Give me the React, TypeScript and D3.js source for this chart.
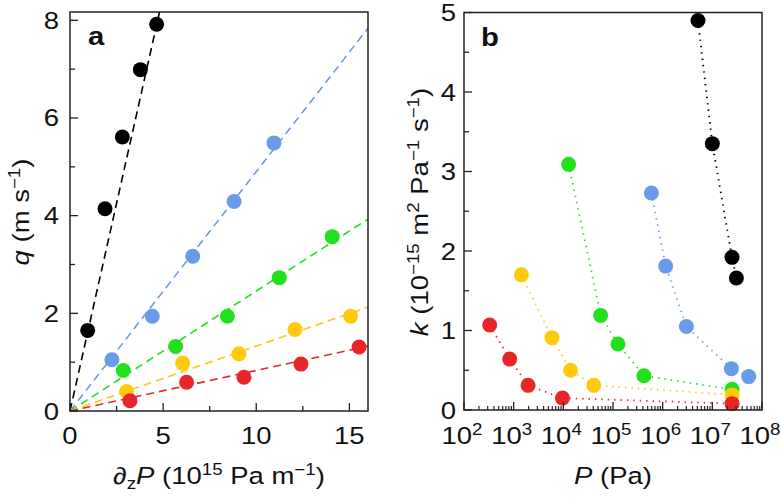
import React from "react";
import * as d3 from "d3";

// ---------- Data ----------
const seriesNames = ["black", "blue", "green", "yellow", "red"];
const seriesColors = ["#000000", "#6a9be8", "#22e01e", "#ffc90e", "#e8262a"];

// Panel a: pressure gradient (10^15 Pa/m) vs flux q (m/s)
const aX = [
  [0.95, 1.88, 2.81, 3.78, 4.65],
  [2.25, 4.42, 6.59, 8.81, 10.95],
  [2.86, 5.67, 8.45, 11.24, 14.08],
  [3.04, 6.05, 9.07, 12.08, 15.07],
  [3.22, 6.26, 9.34, 12.4, 15.52],
];
const aY = [
  [1.65, 4.14, 5.61, 6.99, 7.92],
  [1.05, 1.94, 3.17, 4.29, 5.49],
  [0.83, 1.32, 1.94, 2.73, 3.57],
  [0.4, 0.98, 1.17, 1.67, 1.94],
  [0.21, 0.59, 0.69, 0.96, 1.31],
];
// fitted slopes of the dashed lines through the origin
const aSlopes = [1.7, 0.49, 0.2456, 0.133, 0.083];

// Panel b: pressure P (Pa) vs permeability k
const bX = [
  [5.14e6, 1.0e7, 2.49e7, 3.05e7],
  [5.93e5, 1.15e6, 3.0e6, 2.42e7, 5.4e7],
  [1.28e4, 5.65e4, 1.26e5, 4.2e5, 2.5e7],
  [1.43e3, 5.9e3, 1.4e4, 4.1e4, 2.5e7],
  [329, 832, 1950, 9600, 2.5e7],
];
const bY = [
  [4.9, 3.35, 1.92, 1.66],
  [2.73, 1.81, 1.05, 0.52, 0.42],
  [3.09, 1.19, 0.83, 0.43, 0.26],
  [1.7, 0.91, 0.5, 0.31, 0.19],
  [1.07, 0.64, 0.31, 0.15, 0.08],
];

const aXTicks = [0, 5, 10, 15];
const aXMinor = [2.5, 7.5, 12.5];
const aYTicks = [0, 2, 4, 6, 8];
const aYMinor = [1, 3, 5, 7];
const bXTicks = [2, 3, 4, 5, 6, 7, 8]; // exponents
const bYTicks = [0, 1, 2, 3, 4, 5];
const bYMinor = [0.5, 1.5, 2.5, 3.5, 4.5];

const FONT = "'Liberation Sans', Arial, Helvetica, sans-serif";
const R = 7.5;
const FS = 23.5;
const SUP = 16;
const SX = 1.17;

function T(props: {
  x: number;
  y: number;
  rotate?: number;
  anchor?: string;
  size?: number;
  weight?: string;
  children: React.ReactNode;
}) {
  const { x, y, rotate = 0, anchor = "start", size = FS, weight = "normal", children } = props;
  return (
    <g transform={`translate(${x},${y}) rotate(${rotate}) scale(${SX},1)`}>
      <text x={0} y={0} fontSize={size} fontWeight={weight} textAnchor={anchor} fill="#111">
        {children}
      </text>
    </g>
  );
}

export default function App() {
  // panel a scales
  const xA = d3.scaleLinear().domain([0, 16]).range([70, 368]);
  const yA = d3.scaleLinear().domain([0, 8.17]).range([411, 12]);
  // panel b scales
  const xB = d3.scaleLog().domain([1e2, 1e8]).range([464, 762]);
  const yB = d3.scaleLinear().domain([0, 5]).range([410, 12.5]);

  const lineB = d3
    .line<[number, number]>()
    .x((d) => xB(d[0]))
    .y((d) => yB(d[1]));

  const bMinor: number[] = [];
  for (let e = 2; e < 8; e++) {
    for (let m = 2; m <= 9; m++) bMinor.push(m * Math.pow(10, e));
  }

  const tickColor = "#222";

  return (
    <svg width={781} height={500} style={{ display: "block", position: "absolute", left: 0, top: 0 }} fontFamily={FONT}>
      <rect width={781} height={500} fill="#fff" />
      {/* ---------------- Panel a ---------------- */}
      <g>
        {aSlopes.map((s, i) => {
          const xEnd = Math.min(16, 8.17 / s);
          return (
            <line
              key={"fl" + i}
              x1={xA(0)}
              y1={yA(0)}
              x2={xA(xEnd)}
              y2={yA(s * xEnd)}
              stroke={seriesColors[i]}
              strokeWidth={1.6}
              strokeDasharray="8 5"
            />
          );
        })}
        {aX.map((xs, i) =>
          xs.map((x, j) => (
            <circle key={"ap" + i + "-" + j} cx={xA(x)} cy={yA(aY[i][j])} r={R} fill={seriesColors[i]} />
          ))
        )}
        <rect x={70} y={12} width={298} height={399} fill="none" stroke={tickColor} strokeWidth={1.5} />
        {aXTicks.map((t) => (
          <g key={"axt" + t}>
            <line x1={xA(t)} x2={xA(t)} y1={411} y2={403} stroke={tickColor} strokeWidth={1.3} />
            <T x={xA(t)} y={444} anchor="middle">
              {t}
            </T>
          </g>
        ))}
        {aXMinor.map((t) => (
          <line key={"axm" + t} x1={xA(t)} x2={xA(t)} y1={411} y2={406} stroke={tickColor} strokeWidth={1.3} />
        ))}
        {aYTicks.map((t) => (
          <g key={"ayt" + t}>
            <line x1={70} x2={78} y1={yA(t)} y2={yA(t)} stroke={tickColor} strokeWidth={1.3} />
            <T x={59} y={yA(t) + 8.5} anchor="end">
              {t}
            </T>
          </g>
        ))}
        {aYMinor.map((t) => (
          <line key={"aym" + t} x1={70} x2={75} y1={yA(t)} y2={yA(t)} stroke={tickColor} strokeWidth={1.3} />
        ))}
        <T x={88} y={45} size={25} weight="bold">
          a
        </T>
        <T x={219} y={484} anchor="middle">
          <tspan>∂</tspan>
          <tspan fontSize={SUP} dy={5}>z</tspan>
          <tspan fontStyle="italic" dy={-5}>P</tspan>
          <tspan> (10</tspan>
          <tspan fontSize={SUP} dy={-9}>15</tspan>
          <tspan dy={9}> Pa m</tspan>
          <tspan fontSize={SUP} dy={-9}>−1</tspan>
          <tspan dy={9}>)</tspan>
        </T>
        <T x={29} y={212} rotate={-90} anchor="middle">
          <tspan fontStyle="italic">q</tspan>
          <tspan> (m s</tspan>
          <tspan fontSize={SUP} dy={-9}>−1</tspan>
          <tspan dy={9}>)</tspan>
        </T>
      </g>

      {/* ---------------- Panel b ---------------- */}
      <g>
        {bX.map((xs, i) => (
          <path
            key={"bl" + i}
            d={lineB(xs.map((x, j) => [x, bY[i][j]] as [number, number])) || ""}
            fill="none"
            stroke={seriesColors[i]}
            strokeWidth={1.8}
            strokeDasharray="1.4 5"
          />
        ))}
        {bX.map((xs, i) =>
          xs.map((x, j) => (
            <circle key={"bp" + i + "-" + j} cx={xB(x)} cy={yB(bY[i][j])} r={R} fill={seriesColors[i]} />
          ))
        )}
        <rect x={464} y={12.5} width={298} height={397.5} fill="none" stroke={tickColor} strokeWidth={1.5} />
        {bXTicks.map((e) => (
          <g key={"bxt" + e}>
            <line x1={xB(Math.pow(10, e))} x2={xB(Math.pow(10, e))} y1={410} y2={402} stroke={tickColor} strokeWidth={1.3} />
            <T x={xB(Math.pow(10, e)) - 2} y={444} anchor="middle">
              <tspan>10</tspan>
              <tspan fontSize={SUP} dy={-9}>{e}</tspan>
            </T>
          </g>
        ))}
        {bMinor.map((v, k) => (
          <line key={"bxm" + k} x1={xB(v)} x2={xB(v)} y1={410} y2={406} stroke={tickColor} strokeWidth={1.2} />
        ))}
        {bYTicks.map((t) => (
          <g key={"byt" + t}>
            <line x1={464} x2={472} y1={yB(t)} y2={yB(t)} stroke={tickColor} strokeWidth={1.3} />
            <T x={456} y={yB(t) + 8.5} anchor="end">
              {t}
            </T>
          </g>
        ))}
        {bYMinor.map((t) => (
          <line key={"bym" + t} x1={464} x2={469} y1={yB(t)} y2={yB(t)} stroke={tickColor} strokeWidth={1.3} />
        ))}
        <T x={481} y={46} size={25} weight="bold">
          b
        </T>
        <T x={613} y={484} anchor="middle">
          <tspan fontStyle="italic">P</tspan>
          <tspan> (Pa)</tspan>
        </T>
        <T x={428} y={212} rotate={-90} anchor="middle">
          <tspan fontStyle="italic">k</tspan>
          <tspan> (10</tspan>
          <tspan fontSize={SUP} dy={-9}>−15</tspan>
          <tspan dy={9}> m</tspan>
          <tspan fontSize={SUP} dy={-9}>2</tspan>
          <tspan dy={9}> Pa</tspan>
          <tspan fontSize={SUP} dy={-9}>−1</tspan>
          <tspan dy={9}> s</tspan>
          <tspan fontSize={SUP} dy={-9}>−1</tspan>
          <tspan dy={9}>)</tspan>
        </T>
      </g>
    </svg>
  );
}
